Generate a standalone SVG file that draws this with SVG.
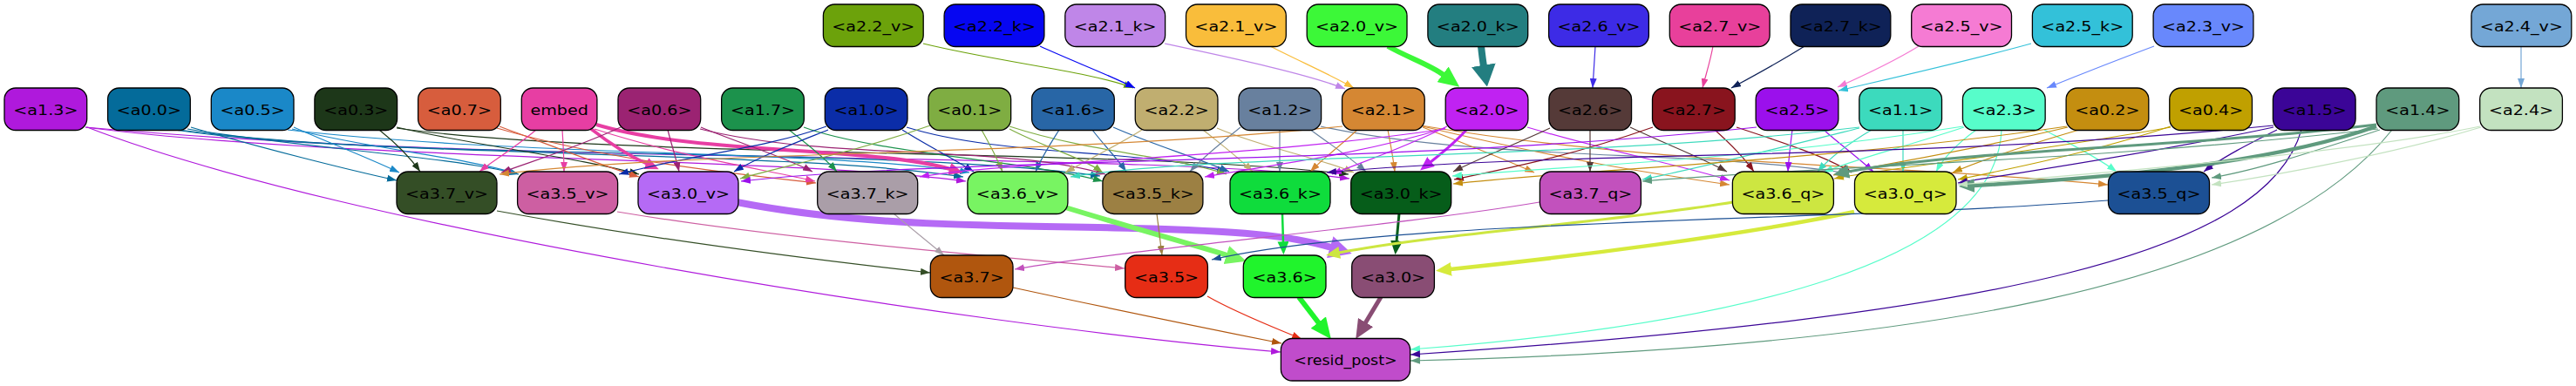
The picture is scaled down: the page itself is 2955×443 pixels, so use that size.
<svg xmlns="http://www.w3.org/2000/svg" width="2955" height="443" viewBox="0 0 2955 443">
<style>
.n rect{stroke:#000;stroke-width:1.3}
.n text{font-family:"DejaVu Sans","Liberation Sans",sans-serif;font-size:16.5px;text-anchor:middle;fill:#000}
</style>
<defs>
<marker id="m_a22v" viewBox="0 0 10 7" refX="10" refY="3.5" markerWidth="11" markerHeight="8" orient="auto" markerUnits="userSpaceOnUse" preserveAspectRatio="none"><path d="M0,0L10,3.5L0,7z" fill="#6ca20b"/></marker>
<marker id="m_a22k" viewBox="0 0 10 7" refX="10" refY="3.5" markerWidth="11" markerHeight="8" orient="auto" markerUnits="userSpaceOnUse" preserveAspectRatio="none"><path d="M0,0L10,3.5L0,7z" fill="#0606f2"/></marker>
<marker id="m_a21k" viewBox="0 0 10 7" refX="10" refY="3.5" markerWidth="11" markerHeight="8" orient="auto" markerUnits="userSpaceOnUse" preserveAspectRatio="none"><path d="M0,0L10,3.5L0,7z" fill="#bf86e8"/></marker>
<marker id="m_a21v" viewBox="0 0 10 7" refX="10" refY="3.5" markerWidth="11" markerHeight="8" orient="auto" markerUnits="userSpaceOnUse" preserveAspectRatio="none"><path d="M0,0L10,3.5L0,7z" fill="#f9bd3b"/></marker>
<marker id="M_a20v" viewBox="0 0 10 10" refX="0.5" refY="5" markerWidth="24" markerHeight="22" orient="auto" markerUnits="userSpaceOnUse" preserveAspectRatio="none"><path d="M0,0L10,5L0,10z" fill="#3cf838"/></marker>
<marker id="M_a20k" viewBox="0 0 10 10" refX="0.5" refY="5" markerWidth="25" markerHeight="28" orient="auto" markerUnits="userSpaceOnUse" preserveAspectRatio="none"><path d="M0,0L10,5L0,10z" fill="#237e80"/></marker>
<marker id="m_a26v" viewBox="0 0 10 7" refX="10" refY="3.5" markerWidth="11" markerHeight="8" orient="auto" markerUnits="userSpaceOnUse" preserveAspectRatio="none"><path d="M0,0L10,3.5L0,7z" fill="#3d2be6"/></marker>
<marker id="m_a27v" viewBox="0 0 10 7" refX="10" refY="3.5" markerWidth="11" markerHeight="8" orient="auto" markerUnits="userSpaceOnUse" preserveAspectRatio="none"><path d="M0,0L10,3.5L0,7z" fill="#e8409b"/></marker>
<marker id="m_a27k" viewBox="0 0 10 7" refX="10" refY="3.5" markerWidth="11" markerHeight="8" orient="auto" markerUnits="userSpaceOnUse" preserveAspectRatio="none"><path d="M0,0L10,3.5L0,7z" fill="#0f2257"/></marker>
<marker id="m_a25v" viewBox="0 0 10 7" refX="10" refY="3.5" markerWidth="11" markerHeight="8" orient="auto" markerUnits="userSpaceOnUse" preserveAspectRatio="none"><path d="M0,0L10,3.5L0,7z" fill="#f57bd3"/></marker>
<marker id="m_a25k" viewBox="0 0 10 7" refX="10" refY="3.5" markerWidth="11" markerHeight="8" orient="auto" markerUnits="userSpaceOnUse" preserveAspectRatio="none"><path d="M0,0L10,3.5L0,7z" fill="#33c1d9"/></marker>
<marker id="m_a23v" viewBox="0 0 10 7" refX="10" refY="3.5" markerWidth="11" markerHeight="8" orient="auto" markerUnits="userSpaceOnUse" preserveAspectRatio="none"><path d="M0,0L10,3.5L0,7z" fill="#6888fc"/></marker>
<marker id="m_a24v" viewBox="0 0 10 7" refX="10" refY="3.5" markerWidth="11" markerHeight="8" orient="auto" markerUnits="userSpaceOnUse" preserveAspectRatio="none"><path d="M0,0L10,3.5L0,7z" fill="#74a7d6"/></marker>
<marker id="m_a13" viewBox="0 0 10 7" refX="10" refY="3.5" markerWidth="11" markerHeight="8" orient="auto" markerUnits="userSpaceOnUse" preserveAspectRatio="none"><path d="M0,0L10,3.5L0,7z" fill="#af19dc"/></marker>
<marker id="m_a00" viewBox="0 0 10 7" refX="10" refY="3.5" markerWidth="11" markerHeight="8" orient="auto" markerUnits="userSpaceOnUse" preserveAspectRatio="none"><path d="M0,0L10,3.5L0,7z" fill="#046b9a"/></marker>
<marker id="m_a05" viewBox="0 0 10 7" refX="10" refY="3.5" markerWidth="11" markerHeight="8" orient="auto" markerUnits="userSpaceOnUse" preserveAspectRatio="none"><path d="M0,0L10,3.5L0,7z" fill="#1a88c8"/></marker>
<marker id="m_a03" viewBox="0 0 10 7" refX="10" refY="3.5" markerWidth="11" markerHeight="8" orient="auto" markerUnits="userSpaceOnUse" preserveAspectRatio="none"><path d="M0,0L10,3.5L0,7z" fill="#1d3719"/></marker>
<marker id="m_a07" viewBox="0 0 10 7" refX="10" refY="3.5" markerWidth="11" markerHeight="8" orient="auto" markerUnits="userSpaceOnUse" preserveAspectRatio="none"><path d="M0,0L10,3.5L0,7z" fill="#d75d3d"/></marker>
<marker id="m_emb" viewBox="0 0 10 7" refX="10" refY="3.5" markerWidth="11" markerHeight="8" orient="auto" markerUnits="userSpaceOnUse" preserveAspectRatio="none"><path d="M0,0L10,3.5L0,7z" fill="#e73ea3"/></marker>
<marker id="M_emb" viewBox="0 0 10 10" refX="0.5" refY="5" markerWidth="16" markerHeight="14" orient="auto" markerUnits="userSpaceOnUse" preserveAspectRatio="none"><path d="M0,0L10,5L0,10z" fill="#e73ea3"/></marker>
<marker id="m_a06" viewBox="0 0 10 7" refX="10" refY="3.5" markerWidth="11" markerHeight="8" orient="auto" markerUnits="userSpaceOnUse" preserveAspectRatio="none"><path d="M0,0L10,3.5L0,7z" fill="#9b2372"/></marker>
<marker id="m_a17" viewBox="0 0 10 7" refX="10" refY="3.5" markerWidth="11" markerHeight="8" orient="auto" markerUnits="userSpaceOnUse" preserveAspectRatio="none"><path d="M0,0L10,3.5L0,7z" fill="#1c924c"/></marker>
<marker id="m_a10" viewBox="0 0 10 7" refX="10" refY="3.5" markerWidth="11" markerHeight="8" orient="auto" markerUnits="userSpaceOnUse" preserveAspectRatio="none"><path d="M0,0L10,3.5L0,7z" fill="#0b2da8"/></marker>
<marker id="m_a01" viewBox="0 0 10 7" refX="10" refY="3.5" markerWidth="11" markerHeight="8" orient="auto" markerUnits="userSpaceOnUse" preserveAspectRatio="none"><path d="M0,0L10,3.5L0,7z" fill="#7fad42"/></marker>
<marker id="m_a16" viewBox="0 0 10 7" refX="10" refY="3.5" markerWidth="11" markerHeight="8" orient="auto" markerUnits="userSpaceOnUse" preserveAspectRatio="none"><path d="M0,0L10,3.5L0,7z" fill="#2866a6"/></marker>
<marker id="m_a22" viewBox="0 0 10 7" refX="10" refY="3.5" markerWidth="11" markerHeight="8" orient="auto" markerUnits="userSpaceOnUse" preserveAspectRatio="none"><path d="M0,0L10,3.5L0,7z" fill="#c0ae70"/></marker>
<marker id="m_a12" viewBox="0 0 10 7" refX="10" refY="3.5" markerWidth="11" markerHeight="8" orient="auto" markerUnits="userSpaceOnUse" preserveAspectRatio="none"><path d="M0,0L10,3.5L0,7z" fill="#68809e"/></marker>
<marker id="m_a21" viewBox="0 0 10 7" refX="10" refY="3.5" markerWidth="11" markerHeight="8" orient="auto" markerUnits="userSpaceOnUse" preserveAspectRatio="none"><path d="M0,0L10,3.5L0,7z" fill="#d58733"/></marker>
<marker id="m_a20" viewBox="0 0 10 7" refX="10" refY="3.5" markerWidth="11" markerHeight="8" orient="auto" markerUnits="userSpaceOnUse" preserveAspectRatio="none"><path d="M0,0L10,3.5L0,7z" fill="#c022f2"/></marker>
<marker id="M_a20" viewBox="0 0 10 10" refX="0.5" refY="5" markerWidth="16" markerHeight="14" orient="auto" markerUnits="userSpaceOnUse" preserveAspectRatio="none"><path d="M0,0L10,5L0,10z" fill="#c022f2"/></marker>
<marker id="m_a26" viewBox="0 0 10 7" refX="10" refY="3.5" markerWidth="11" markerHeight="8" orient="auto" markerUnits="userSpaceOnUse" preserveAspectRatio="none"><path d="M0,0L10,3.5L0,7z" fill="#553a38"/></marker>
<marker id="m_a27" viewBox="0 0 10 7" refX="10" refY="3.5" markerWidth="11" markerHeight="8" orient="auto" markerUnits="userSpaceOnUse" preserveAspectRatio="none"><path d="M0,0L10,3.5L0,7z" fill="#89141e"/></marker>
<marker id="m_a25" viewBox="0 0 10 7" refX="10" refY="3.5" markerWidth="11" markerHeight="8" orient="auto" markerUnits="userSpaceOnUse" preserveAspectRatio="none"><path d="M0,0L10,3.5L0,7z" fill="#9b10ec"/></marker>
<marker id="m_a11" viewBox="0 0 10 7" refX="10" refY="3.5" markerWidth="11" markerHeight="8" orient="auto" markerUnits="userSpaceOnUse" preserveAspectRatio="none"><path d="M0,0L10,3.5L0,7z" fill="#3cdabd"/></marker>
<marker id="m_a23" viewBox="0 0 10 7" refX="10" refY="3.5" markerWidth="11" markerHeight="8" orient="auto" markerUnits="userSpaceOnUse" preserveAspectRatio="none"><path d="M0,0L10,3.5L0,7z" fill="#57fdca"/></marker>
<marker id="m_a02" viewBox="0 0 10 7" refX="10" refY="3.5" markerWidth="11" markerHeight="8" orient="auto" markerUnits="userSpaceOnUse" preserveAspectRatio="none"><path d="M0,0L10,3.5L0,7z" fill="#c48e10"/></marker>
<marker id="m_a04" viewBox="0 0 10 7" refX="10" refY="3.5" markerWidth="11" markerHeight="8" orient="auto" markerUnits="userSpaceOnUse" preserveAspectRatio="none"><path d="M0,0L10,3.5L0,7z" fill="#c0a000"/></marker>
<marker id="m_a15" viewBox="0 0 10 7" refX="10" refY="3.5" markerWidth="11" markerHeight="8" orient="auto" markerUnits="userSpaceOnUse" preserveAspectRatio="none"><path d="M0,0L10,3.5L0,7z" fill="#3b0597"/></marker>
<marker id="m_a14" viewBox="0 0 10 7" refX="10" refY="3.5" markerWidth="11" markerHeight="8" orient="auto" markerUnits="userSpaceOnUse" preserveAspectRatio="none"><path d="M0,0L10,3.5L0,7z" fill="#5f9a7e"/></marker>
<marker id="M_a14" viewBox="0 0 10 10" refX="0.5" refY="5" markerWidth="18" markerHeight="16" orient="auto" markerUnits="userSpaceOnUse" preserveAspectRatio="none"><path d="M0,0L10,5L0,10z" fill="#5f9a7e"/></marker>
<marker id="m_a24" viewBox="0 0 10 7" refX="10" refY="3.5" markerWidth="11" markerHeight="8" orient="auto" markerUnits="userSpaceOnUse" preserveAspectRatio="none"><path d="M0,0L10,3.5L0,7z" fill="#c3e2c0"/></marker>
<marker id="m_a37v" viewBox="0 0 10 7" refX="10" refY="3.5" markerWidth="11" markerHeight="8" orient="auto" markerUnits="userSpaceOnUse" preserveAspectRatio="none"><path d="M0,0L10,3.5L0,7z" fill="#344e26"/></marker>
<marker id="m_a35v" viewBox="0 0 10 7" refX="10" refY="3.5" markerWidth="11" markerHeight="8" orient="auto" markerUnits="userSpaceOnUse" preserveAspectRatio="none"><path d="M0,0L10,3.5L0,7z" fill="#cd5fa2"/></marker>
<marker id="M_a30v" viewBox="0 0 10 10" refX="0.5" refY="5" markerWidth="26" markerHeight="26" orient="auto" markerUnits="userSpaceOnUse" preserveAspectRatio="none"><path d="M0,0L10,5L0,10z" fill="#b56af5"/></marker>
<marker id="m_a37k" viewBox="0 0 10 7" refX="10" refY="3.5" markerWidth="11" markerHeight="8" orient="auto" markerUnits="userSpaceOnUse" preserveAspectRatio="none"><path d="M0,0L10,3.5L0,7z" fill="#aa9ea8"/></marker>
<marker id="M_a36v" viewBox="0 0 10 10" refX="0.5" refY="5" markerWidth="24" markerHeight="22" orient="auto" markerUnits="userSpaceOnUse" preserveAspectRatio="none"><path d="M0,0L10,5L0,10z" fill="#78f462"/></marker>
<marker id="m_a35k" viewBox="0 0 10 7" refX="10" refY="3.5" markerWidth="11" markerHeight="8" orient="auto" markerUnits="userSpaceOnUse" preserveAspectRatio="none"><path d="M0,0L10,3.5L0,7z" fill="#9c8043"/></marker>
<marker id="M_a36k" viewBox="0 0 10 10" refX="0.5" refY="5" markerWidth="15" markerHeight="13" orient="auto" markerUnits="userSpaceOnUse" preserveAspectRatio="none"><path d="M0,0L10,5L0,10z" fill="#0fdc3c"/></marker>
<marker id="M_a30k" viewBox="0 0 10 10" refX="0.5" refY="5" markerWidth="16" markerHeight="14" orient="auto" markerUnits="userSpaceOnUse" preserveAspectRatio="none"><path d="M0,0L10,5L0,10z" fill="#065d1a"/></marker>
<marker id="m_a37q" viewBox="0 0 10 7" refX="10" refY="3.5" markerWidth="11" markerHeight="8" orient="auto" markerUnits="userSpaceOnUse" preserveAspectRatio="none"><path d="M0,0L10,3.5L0,7z" fill="#c251bd"/></marker>
<marker id="M_a36q" viewBox="0 0 10 10" refX="0.5" refY="5" markerWidth="16" markerHeight="14" orient="auto" markerUnits="userSpaceOnUse" preserveAspectRatio="none"><path d="M0,0L10,5L0,10z" fill="#cde641"/></marker>
<marker id="M_a30q" viewBox="0 0 10 10" refX="0.5" refY="5" markerWidth="18" markerHeight="16" orient="auto" markerUnits="userSpaceOnUse" preserveAspectRatio="none"><path d="M0,0L10,5L0,10z" fill="#d6ea3c"/></marker>
<marker id="m_a35q" viewBox="0 0 10 7" refX="10" refY="3.5" markerWidth="11" markerHeight="8" orient="auto" markerUnits="userSpaceOnUse" preserveAspectRatio="none"><path d="M0,0L10,3.5L0,7z" fill="#1c5094"/></marker>
<marker id="m_a37" viewBox="0 0 10 7" refX="10" refY="3.5" markerWidth="11" markerHeight="8" orient="auto" markerUnits="userSpaceOnUse" preserveAspectRatio="none"><path d="M0,0L10,3.5L0,7z" fill="#b0560e"/></marker>
<marker id="m_a35" viewBox="0 0 10 7" refX="10" refY="3.5" markerWidth="11" markerHeight="8" orient="auto" markerUnits="userSpaceOnUse" preserveAspectRatio="none"><path d="M0,0L10,3.5L0,7z" fill="#e62d15"/></marker>
<marker id="M_a36" viewBox="0 0 10 10" refX="0.5" refY="5" markerWidth="24" markerHeight="22" orient="auto" markerUnits="userSpaceOnUse" preserveAspectRatio="none"><path d="M0,0L10,5L0,10z" fill="#20f42c"/></marker>
<marker id="M_a30" viewBox="0 0 10 10" refX="0.5" refY="5" markerWidth="22" markerHeight="20" orient="auto" markerUnits="userSpaceOnUse" preserveAspectRatio="none"><path d="M0,0L10,5L0,10z" fill="#894d74"/></marker>
</defs>
<rect width="2955" height="443" fill="#fff"/>
<g id="edges" fill="none" stroke-width="1.2">
<path d="M1059,50 C1150,72 1250,82 1300,101" stroke="#6ca20b" marker-end="url(#m_a22v)"/>
<path d="M1193,53 C1230,70 1270,85 1302,101" stroke="#0606f2" marker-end="url(#m_a22k)"/>
<path d="M1336,50 C1420,68 1500,85 1543,102" stroke="#bf86e8" marker-end="url(#m_a21k)"/>
<path d="M1457,53 C1490,70 1525,85 1553,101" stroke="#f9bd3b" marker-end="url(#m_a21v)"/>
<path d="M1592,53 C1615,66 1640,74 1656,86" stroke="#3cf838" stroke-width="6" marker-end="url(#M_a20v)"/>
<path d="M1699,53 C1700,62 1701,70 1702,76" stroke="#237e80" stroke-width="8" marker-end="url(#M_a20k)"/>
<path d="M1830,53 C1829,70 1828,85 1827,101" stroke="#3d2be6" marker-end="url(#m_a26v)"/>
<path d="M1965,53 C1962,70 1957,85 1953,101" stroke="#e8409b" marker-end="url(#m_a27v)"/>
<path d="M2070,53 C2040,72 2010,88 1986,101" stroke="#0f2257" marker-end="url(#m_a27k)"/>
<path d="M2201,53 C2170,72 2135,88 2108,100" stroke="#f57bd3" marker-end="url(#m_a25v)"/>
<path d="M2330,50 C2250,72 2160,92 2109,104" stroke="#33c1d9" marker-end="url(#m_a25k)"/>
<path d="M2471,53 C2420,72 2380,88 2348,101" stroke="#6888fc" marker-end="url(#m_a23v)"/>
<path d="M2892,53 L2892,101" stroke="#74a7d6" marker-end="url(#m_a24v)"/>
<path d="M98,146 C400,185 900,180 1108,208" stroke="#af19dc" marker-end="url(#m_a13)"/>
<path d="M98,146 C600,192 1300,172 1548,205" stroke="#af19dc" marker-end="url(#m_a13)"/>
<path d="M219,146 C300,170 400,195 455,207" stroke="#046b9a" marker-end="url(#m_a00)"/>
<path d="M215,148 C350,170 520,180 595,200" stroke="#046b9a" marker-end="url(#m_a00)"/>
<path d="M205,149 C450,182 900,172 1105,203" stroke="#046b9a" marker-end="url(#m_a00)"/>
<path d="M200,149 C450,186 1000,166 1262,202" stroke="#046b9a" marker-end="url(#m_a00)"/>
<path d="M337,146 C380,165 420,180 458,198" stroke="#1a88c8" marker-end="url(#m_a05)"/>
<path d="M335,148 C420,170 530,180 592,199" stroke="#1a88c8" marker-end="url(#m_a05)"/>
<path d="M330,149 C600,180 950,172 1112,198" stroke="#1a88c8" marker-end="url(#m_a05)"/>
<path d="M435,149 C455,165 470,180 482,197" stroke="#1d3719" marker-end="url(#m_a03)"/>
<path d="M455,146 C560,170 660,180 733,200" stroke="#1d3719" marker-end="url(#m_a03)"/>
<path d="M455,147 C700,182 1300,170 1547,200" stroke="#1d3719" marker-end="url(#m_a03)"/>
<path d="M573,145 C640,170 690,190 733,203" stroke="#d75d3d" marker-end="url(#m_a07)"/>
<path d="M570,147 C700,185 850,200 936,210" stroke="#d75d3d" marker-end="url(#m_a07)"/>
<path d="M615,149 C590,170 565,185 550,197" stroke="#e73ea3" marker-end="url(#m_emb)"/>
<path d="M645,149 C646,165 647,180 647,197" stroke="#e73ea3" marker-end="url(#m_emb)"/>
<path d="M678,148 C700,165 720,178 742,188" stroke="#e73ea3" stroke-width="3.5" marker-end="url(#M_emb)"/>
<path d="M684,143 C800,178 1000,168 1090,194" stroke="#e73ea3" stroke-width="4" marker-end="url(#M_emb)"/>
<path d="M682,148 C780,180 880,195 935,208" stroke="#e73ea3" marker-end="url(#m_emb)"/>
<path d="M712,146 C660,170 610,185 575,198" stroke="#9b2372" marker-end="url(#m_a06)"/>
<path d="M766,149 C770,165 775,180 779,197" stroke="#9b2372" marker-end="url(#m_a06)"/>
<path d="M804,146 C850,165 900,180 932,197" stroke="#9b2372" marker-end="url(#m_a06)"/>
<path d="M803,148 C950,185 1150,165 1268,200" stroke="#9b2372" marker-end="url(#m_a06)"/>
<path d="M905,149 C925,165 945,180 960,197" stroke="#1c924c" marker-end="url(#m_a17)"/>
<path d="M922,146 C1000,175 1180,185 1265,208" stroke="#1c924c" marker-end="url(#m_a17)"/>
<path d="M948,145 C880,170 780,180 710,200" stroke="#0b2da8" marker-end="url(#m_a10)"/>
<path d="M950,149 C910,165 870,180 842,197" stroke="#0b2da8" marker-end="url(#m_a10)"/>
<path d="M1035,149 C1060,165 1090,180 1117,197" stroke="#0b2da8" marker-end="url(#m_a10)"/>
<path d="M1040,146 C1150,180 1300,170 1407,197" stroke="#0b2da8" marker-end="url(#m_a10)"/>
<path d="M1067,144 C980,175 900,190 849,205" stroke="#7fad42" marker-end="url(#m_a01)"/>
<path d="M1126,149 C1135,165 1143,180 1150,197" stroke="#7fad42" marker-end="url(#m_a01)"/>
<path d="M1158,148 C1200,170 1240,180 1265,198" stroke="#7fad42" marker-end="url(#m_a01)"/>
<path d="M1158,145 C1250,175 1350,180 1407,200" stroke="#7fad42" marker-end="url(#m_a01)"/>
<path d="M1215,149 C1205,165 1195,180 1188,197" stroke="#2866a6" marker-end="url(#m_a16)"/>
<path d="M1253,149 C1265,165 1280,180 1292,197" stroke="#2866a6" marker-end="url(#m_a16)"/>
<path d="M1277,146 C1320,165 1370,180 1410,197" stroke="#2866a6" marker-end="url(#m_a16)"/>
<path d="M1310,149 C1280,168 1250,182 1222,198" stroke="#c0ae70" marker-end="url(#m_a22)"/>
<path d="M1380,149 C1400,165 1420,180 1437,197" stroke="#c0ae70" marker-end="url(#m_a22)"/>
<path d="M1396,147 C1450,170 1510,180 1553,198" stroke="#c0ae70" marker-end="url(#m_a22)"/>
<path d="M1423,146 C1400,165 1380,180 1365,197" stroke="#68809e" marker-end="url(#m_a12)"/>
<path d="M1468,149 L1468,197" stroke="#68809e" marker-end="url(#m_a12)"/>
<path d="M1502,148 C1525,165 1548,180 1567,197" stroke="#68809e" marker-end="url(#m_a12)"/>
<path d="M1515,145 C1700,185 1950,172 2120,199" stroke="#68809e" marker-end="url(#m_a12)"/>
<path d="M1540,145 C1200,180 800,172 573,200" stroke="#d58733" marker-end="url(#m_a21)"/>
<path d="M1557,149 C1540,165 1520,180 1503,197" stroke="#d58733" marker-end="url(#m_a21)"/>
<path d="M1592,149 C1595,165 1598,180 1600,197" stroke="#d58733" marker-end="url(#m_a21)"/>
<path d="M1632,146 C1680,165 1720,180 1760,198" stroke="#d58733" marker-end="url(#m_a21)"/>
<path d="M1632,145 C1800,185 1900,200 1984,212" stroke="#d58733" marker-end="url(#m_a21)"/>
<path d="M1630,144 C1900,190 2200,190 2418,212" stroke="#d58733" marker-end="url(#m_a21)"/>
<path d="M1682,149 C1670,163 1655,175 1641,186" stroke="#c022f2" stroke-width="3" marker-end="url(#M_a20)"/>
<path d="M1660,145 C1610,170 1565,185 1528,200" stroke="#c022f2" marker-end="url(#m_a20)"/>
<path d="M1658,147 C1550,180 1450,190 1382,203" stroke="#c022f2" marker-end="url(#m_a20)"/>
<path d="M1658,148 C1400,185 1150,185 1055,203" stroke="#c022f2" marker-end="url(#m_a20)"/>
<path d="M1752,146 C1850,175 1930,190 1984,207" stroke="#c022f2" marker-end="url(#m_a20)"/>
<path d="M1824,149 L1824,197" stroke="#553a38" marker-end="url(#m_a26)"/>
<path d="M1778,147 C1740,165 1700,180 1667,197" stroke="#553a38" marker-end="url(#m_a26)"/>
<path d="M1870,146 C1910,165 1950,180 1981,197" stroke="#553a38" marker-end="url(#m_a26)"/>
<path d="M1896,146 C1800,180 1720,195 1668,206" stroke="#89141e" marker-end="url(#m_a27)"/>
<path d="M1967,149 C1985,165 2000,180 2012,197" stroke="#89141e" marker-end="url(#m_a27)"/>
<path d="M1992,146 C2050,165 2095,180 2124,198" stroke="#89141e" marker-end="url(#m_a27)"/>
<path d="M2056,149 C2054,165 2052,180 2051,197" stroke="#9b10ec" marker-end="url(#m_a25)"/>
<path d="M2092,149 C2110,165 2130,180 2149,197" stroke="#9b10ec" marker-end="url(#m_a25)"/>
<path d="M2015,146 C1600,190 1100,180 850,208" stroke="#9b10ec" marker-end="url(#m_a25)"/>
<path d="M2183,149 L2183,197" stroke="#3cdabd" marker-end="url(#m_a11)"/>
<path d="M2147,149 C2120,165 2100,180 2085,197" stroke="#3cdabd" marker-end="url(#m_a11)"/>
<path d="M2133,146 C1800,185 1400,175 1228,203" stroke="#3cdabd" marker-end="url(#m_a11)"/>
<path d="M2133,147 C2020,175 1940,195 1884,206" stroke="#3cdabd" marker-end="url(#m_a11)"/>
<path d="M2267,149 C2245,165 2230,180 2221,197" stroke="#57fdca" marker-end="url(#m_a23)"/>
<path d="M2253,146 C2180,170 2120,185 2092,198" stroke="#57fdca" marker-end="url(#m_a23)"/>
<path d="M2345,149 C2375,165 2405,180 2428,197" stroke="#57fdca" marker-end="url(#m_a23)"/>
<path d="M2252,145 C2000,185 1800,190 1666,202" stroke="#57fdca" marker-end="url(#m_a23)"/>
<path d="M2296,149 C2290,300 2000,372 1618,401" stroke="#57fdca" marker-end="url(#m_a23)"/>
<path d="M2385,149 C2320,168 2270,185 2240,198" stroke="#c48e10" marker-end="url(#m_a02)"/>
<path d="M2372,146 C2250,175 2150,190 2103,201" stroke="#c48e10" marker-end="url(#m_a02)"/>
<path d="M2371,145 C2100,185 1800,195 1667,211" stroke="#c48e10" marker-end="url(#m_a02)"/>
<path d="M2490,145 C2400,175 2300,195 2246,206" stroke="#c0a000" marker-end="url(#m_a04)"/>
<path d="M2490,146 C2300,180 2150,195 2104,205" stroke="#c0a000" marker-end="url(#m_a04)"/>
<path d="M2612,149 C2580,165 2550,180 2528,197" stroke="#3b0597" marker-end="url(#m_a15)"/>
<path d="M2608,144 C2200,185 1800,172 1522,198" stroke="#3b0597" marker-end="url(#m_a15)"/>
<path d="M2608,146 C2450,180 2300,200 2246,210" stroke="#3b0597" marker-end="url(#m_a15)"/>
<path d="M2640,149 C2600,290 2300,362 1618,407" stroke="#3b0597" marker-end="url(#m_a15)"/>
<path d="M2726,145 C2600,190 2400,205 2264,213" stroke="#5f9a7e" stroke-width="4.5" marker-end="url(#M_a14)"/>
<path d="M2726,143 C2500,170 2250,172 2120,197" stroke="#5f9a7e" stroke-width="3" marker-end="url(#M_a14)"/>
<path d="M2728,148 C2400,185 2100,190 1884,208" stroke="#5f9a7e" marker-end="url(#m_a14)"/>
<path d="M2730,149 C2650,175 2590,195 2537,204" stroke="#5f9a7e" marker-end="url(#m_a14)"/>
<path d="M2744,149 C2600,330 2200,400 1618,414" stroke="#5f9a7e" marker-end="url(#m_a14)"/>
<path d="M2846,146 C2750,175 2620,200 2537,212" stroke="#c3e2c0" marker-end="url(#m_a24)"/>
<path d="M2845,145 C2700,175 2400,200 2246,212" stroke="#c3e2c0" marker-end="url(#m_a24)"/>
<path d="M100,146 C400,262 1100,372 1469,404" stroke="#af19dc" marker-end="url(#m_a13)"/>
<path d="M570,242 C750,275 950,300 1067,313" stroke="#344e26" marker-end="url(#m_a37v)"/>
<path d="M708,243 C900,275 1150,295 1290,308" stroke="#cd5fa2" marker-end="url(#m_a35v)"/>
<path d="M845,232 C1000,262 1150,258 1300,262 C1420,265 1480,270 1527,284" stroke="#b56af5" stroke-width="8" marker-end="url(#M_a30v)"/>
<path d="M1025,245 C1045,262 1065,278 1083,293" stroke="#aa9ea8" marker-end="url(#m_a37k)"/>
<path d="M1222,238 C1300,262 1360,278 1408,293" stroke="#78f462" stroke-width="6" marker-end="url(#M_a36v)"/>
<path d="M1327,245 C1329,262 1331,278 1333,293" stroke="#9c8043" marker-end="url(#m_a35k)"/>
<path d="M1471,245 L1472,278" stroke="#0fdc3c" stroke-width="2.5" marker-end="url(#M_a36k)"/>
<path d="M1605,245 L1602,277" stroke="#065d1a" stroke-width="3" marker-end="url(#M_a30k)"/>
<path d="M1766,232 C1600,260 1300,285 1164,309" stroke="#c251bd" marker-end="url(#m_a37q)"/>
<path d="M1988,232 C1850,255 1650,268 1536,290" stroke="#cde641" stroke-width="3" marker-end="url(#M_a36q)"/>
<path d="M2127,243 C2000,270 1800,295 1664,309" stroke="#d6ea3c" stroke-width="4.5" marker-end="url(#M_a30q)"/>
<path d="M2418,230 C2100,255 1600,250 1390,298" stroke="#1c5094" marker-end="url(#m_a35q)"/>
<path d="M1162,330 C1300,360 1400,380 1470,394" stroke="#b0560e" marker-end="url(#m_a37)"/>
<path d="M1385,340 C1420,360 1460,375 1493,389" stroke="#e62d15" marker-end="url(#m_a35)"/>
<path d="M1490,341 L1513,371" stroke="#20f42c" stroke-width="6" marker-end="url(#M_a36)"/>
<path d="M1584,341 L1566,371" stroke="#894d74" stroke-width="5" marker-end="url(#M_a30)"/>
</g>
<g id="n_a22v" class="n"><rect x="944.4" y="5" width="114.8" height="48.5" rx="13" fill="#6ca20b"/><text transform="translate(1001.8 35.5) scale(1.16 1)">&lt;a2.2_v&gt;</text></g>
<g id="n_a22k" class="n"><rect x="1083.1" y="5" width="114.8" height="48.5" rx="13" fill="#0606f2"/><text transform="translate(1140.5 35.5) scale(1.16 1)">&lt;a2.2_k&gt;</text></g>
<g id="n_a21k" class="n"><rect x="1221.8" y="5" width="114.8" height="48.5" rx="13" fill="#bf86e8"/><text transform="translate(1279.2 35.5) scale(1.16 1)">&lt;a2.1_k&gt;</text></g>
<g id="n_a21v" class="n"><rect x="1360.5" y="5" width="114.8" height="48.5" rx="13" fill="#f9bd3b"/><text transform="translate(1417.9 35.5) scale(1.16 1)">&lt;a2.1_v&gt;</text></g>
<g id="n_a20v" class="n"><rect x="1499.2" y="5" width="114.8" height="48.5" rx="13" fill="#3cf838"/><text transform="translate(1556.6 35.5) scale(1.16 1)">&lt;a2.0_v&gt;</text></g>
<g id="n_a20k" class="n"><rect x="1637.9" y="5" width="114.8" height="48.5" rx="13" fill="#237e80"/><text transform="translate(1695.3 35.5) scale(1.16 1)">&lt;a2.0_k&gt;</text></g>
<g id="n_a26v" class="n"><rect x="1776.6" y="5" width="114.8" height="48.5" rx="13" fill="#3d2be6"/><text transform="translate(1834 35.5) scale(1.16 1)">&lt;a2.6_v&gt;</text></g>
<g id="n_a27v" class="n"><rect x="1915.3" y="5" width="114.8" height="48.5" rx="13" fill="#e8409b"/><text transform="translate(1972.7 35.5) scale(1.16 1)">&lt;a2.7_v&gt;</text></g>
<g id="n_a27k" class="n"><rect x="2054" y="5" width="114.8" height="48.5" rx="13" fill="#0f2257"/><text transform="translate(2111.4 35.5) scale(1.16 1)">&lt;a2.7_k&gt;</text></g>
<g id="n_a25v" class="n"><rect x="2192.7" y="5" width="114.8" height="48.5" rx="13" fill="#f57bd3"/><text transform="translate(2250.1 35.5) scale(1.16 1)">&lt;a2.5_v&gt;</text></g>
<g id="n_a25k" class="n"><rect x="2331.4" y="5" width="114.8" height="48.5" rx="13" fill="#33c1d9"/><text transform="translate(2388.8 35.5) scale(1.16 1)">&lt;a2.5_k&gt;</text></g>
<g id="n_a23v" class="n"><rect x="2470.1" y="5" width="114.8" height="48.5" rx="13" fill="#6888fc"/><text transform="translate(2527.5 35.5) scale(1.16 1)">&lt;a2.3_v&gt;</text></g>
<g id="n_a24v" class="n"><rect x="2835" y="5" width="114.8" height="48.5" rx="13" fill="#74a7d6"/><text transform="translate(2892.4 35.5) scale(1.16 1)">&lt;a2.4_v&gt;</text></g>
<g id="n_a13" class="n"><rect x="5" y="101" width="94.7" height="48.5" rx="13" fill="#af19dc"/><text transform="translate(52.35 131.5) scale(1.16 1)">&lt;a1.3&gt;</text></g>
<g id="n_a00" class="n"><rect x="123.6" y="101" width="94.7" height="48.5" rx="13" fill="#046b9a"/><text transform="translate(170.95 131.5) scale(1.16 1)">&lt;a0.0&gt;</text></g>
<g id="n_a05" class="n"><rect x="242.3" y="101" width="94.7" height="48.5" rx="13" fill="#1a88c8"/><text transform="translate(289.65 131.5) scale(1.16 1)">&lt;a0.5&gt;</text></g>
<g id="n_a03" class="n"><rect x="360.9" y="101" width="94.7" height="48.5" rx="13" fill="#1d3719"/><text transform="translate(408.25 131.5) scale(1.16 1)">&lt;a0.3&gt;</text></g>
<g id="n_a07" class="n"><rect x="479.6" y="101" width="94.7" height="48.5" rx="13" fill="#d75d3d"/><text transform="translate(526.95 131.5) scale(1.16 1)">&lt;a0.7&gt;</text></g>
<g id="n_embed" class="n"><rect x="598.3" y="101" width="86.6" height="48.5" rx="13" fill="#e73ea3"/><text transform="translate(641.6 131.5) scale(1.16 1)">embed</text></g>
<g id="n_a06" class="n"><rect x="709" y="101" width="94.7" height="48.5" rx="13" fill="#9b2372"/><text transform="translate(756.35 131.5) scale(1.16 1)">&lt;a0.6&gt;</text></g>
<g id="n_a17" class="n"><rect x="827.65" y="101" width="94.7" height="48.5" rx="13" fill="#1c924c"/><text transform="translate(875 131.5) scale(1.16 1)">&lt;a1.7&gt;</text></g>
<g id="n_a10" class="n"><rect x="946.3" y="101" width="94.7" height="48.5" rx="13" fill="#0b2da8"/><text transform="translate(993.65 131.5) scale(1.16 1)">&lt;a1.0&gt;</text></g>
<g id="n_a01" class="n"><rect x="1064.95" y="101" width="94.7" height="48.5" rx="13" fill="#7fad42"/><text transform="translate(1112.3 131.5) scale(1.16 1)">&lt;a0.1&gt;</text></g>
<g id="n_a16" class="n"><rect x="1183.6" y="101" width="94.7" height="48.5" rx="13" fill="#2866a6"/><text transform="translate(1230.95 131.5) scale(1.16 1)">&lt;a1.6&gt;</text></g>
<g id="n_a22" class="n"><rect x="1302.25" y="101" width="94.7" height="48.5" rx="13" fill="#c0ae70"/><text transform="translate(1349.6 131.5) scale(1.16 1)">&lt;a2.2&gt;</text></g>
<g id="n_a12" class="n"><rect x="1420.9" y="101" width="94.7" height="48.5" rx="13" fill="#68809e"/><text transform="translate(1468.25 131.5) scale(1.16 1)">&lt;a1.2&gt;</text></g>
<g id="n_a21" class="n"><rect x="1539.55" y="101" width="94.7" height="48.5" rx="13" fill="#d58733"/><text transform="translate(1586.9 131.5) scale(1.16 1)">&lt;a2.1&gt;</text></g>
<g id="n_a20" class="n"><rect x="1658.2" y="101" width="94.7" height="48.5" rx="13" fill="#c022f2"/><text transform="translate(1705.55 131.5) scale(1.16 1)">&lt;a2.0&gt;</text></g>
<g id="n_a26" class="n"><rect x="1776.85" y="101" width="94.7" height="48.5" rx="13" fill="#553a38"/><text transform="translate(1824.2 131.5) scale(1.16 1)">&lt;a2.6&gt;</text></g>
<g id="n_a27" class="n"><rect x="1895.5" y="101" width="94.7" height="48.5" rx="13" fill="#89141e"/><text transform="translate(1942.85 131.5) scale(1.16 1)">&lt;a2.7&gt;</text></g>
<g id="n_a25" class="n"><rect x="2014.15" y="101" width="94.7" height="48.5" rx="13" fill="#9b10ec"/><text transform="translate(2061.5 131.5) scale(1.16 1)">&lt;a2.5&gt;</text></g>
<g id="n_a11" class="n"><rect x="2132.8" y="101" width="94.7" height="48.5" rx="13" fill="#3cdabd"/><text transform="translate(2180.15 131.5) scale(1.16 1)">&lt;a1.1&gt;</text></g>
<g id="n_a23" class="n"><rect x="2251.45" y="101" width="94.7" height="48.5" rx="13" fill="#57fdca"/><text transform="translate(2298.8 131.5) scale(1.16 1)">&lt;a2.3&gt;</text></g>
<g id="n_a02" class="n"><rect x="2370.1" y="101" width="94.7" height="48.5" rx="13" fill="#c48e10"/><text transform="translate(2417.45 131.5) scale(1.16 1)">&lt;a0.2&gt;</text></g>
<g id="n_a04" class="n"><rect x="2488.75" y="101" width="94.7" height="48.5" rx="13" fill="#c0a000"/><text transform="translate(2536.1 131.5) scale(1.16 1)">&lt;a0.4&gt;</text></g>
<g id="n_a15" class="n"><rect x="2607.4" y="101" width="94.7" height="48.5" rx="13" fill="#3b0597"/><text transform="translate(2654.75 131.5) scale(1.16 1)">&lt;a1.5&gt;</text></g>
<g id="n_a14" class="n"><rect x="2726.05" y="101" width="94.7" height="48.5" rx="13" fill="#5f9a7e"/><text transform="translate(2773.4 131.5) scale(1.16 1)">&lt;a1.4&gt;</text></g>
<g id="n_a24" class="n"><rect x="2844.7" y="101" width="94.7" height="48.5" rx="13" fill="#c3e2c0"/><text transform="translate(2892.05 131.5) scale(1.16 1)">&lt;a2.4&gt;</text></g>
<g id="n_a37v" class="n"><rect x="455" y="197" width="115" height="48.5" rx="13" fill="#344e26"/><text transform="translate(512.5 227.5) scale(1.16 1)">&lt;a3.7_v&gt;</text></g>
<g id="n_a35v" class="n"><rect x="593.6" y="197" width="115" height="48.5" rx="13" fill="#cd5fa2"/><text transform="translate(651.1 227.5) scale(1.16 1)">&lt;a3.5_v&gt;</text></g>
<g id="n_a30v" class="n"><rect x="732" y="197" width="115" height="48.5" rx="13" fill="#b56af5"/><text transform="translate(789.5 227.5) scale(1.16 1)">&lt;a3.0_v&gt;</text></g>
<g id="n_a37k" class="n"><rect x="937.7" y="197" width="115" height="48.5" rx="13" fill="#aa9ea8"/><text transform="translate(995.2 227.5) scale(1.16 1)">&lt;a3.7_k&gt;</text></g>
<g id="n_a36v" class="n"><rect x="1109.9" y="197" width="115" height="48.5" rx="13" fill="#78f462"/><text transform="translate(1167.4 227.5) scale(1.16 1)">&lt;a3.6_v&gt;</text></g>
<g id="n_a35k" class="n"><rect x="1264.9" y="197" width="115" height="48.5" rx="13" fill="#9c8043"/><text transform="translate(1322.4 227.5) scale(1.16 1)">&lt;a3.5_k&gt;</text></g>
<g id="n_a36k" class="n"><rect x="1411" y="197" width="115" height="48.5" rx="13" fill="#0fdc3c"/><text transform="translate(1468.5 227.5) scale(1.16 1)">&lt;a3.6_k&gt;</text></g>
<g id="n_a30k" class="n"><rect x="1549.7" y="197" width="115" height="48.5" rx="13" fill="#065d1a"/><text transform="translate(1607.2 227.5) scale(1.16 1)">&lt;a3.0_k&gt;</text></g>
<g id="n_a37q" class="n"><rect x="1766.4" y="197" width="116" height="48.5" rx="13" fill="#c251bd"/><text transform="translate(1824.4 227.5) scale(1.16 1)">&lt;a3.7_q&gt;</text></g>
<g id="n_a36q" class="n"><rect x="1987.4" y="197" width="116" height="48.5" rx="13" fill="#cde641"/><text transform="translate(2045.4 227.5) scale(1.16 1)">&lt;a3.6_q&gt;</text></g>
<g id="n_a30q" class="n"><rect x="2127.5" y="197" width="116.5" height="48.5" rx="13" fill="#d6ea3c"/><text transform="translate(2185.75 227.5) scale(1.16 1)">&lt;a3.0_q&gt;</text></g>
<g id="n_a35q" class="n"><rect x="2418.5" y="197" width="116" height="48.5" rx="13" fill="#1c5094"/><text transform="translate(2476.5 227.5) scale(1.16 1)">&lt;a3.5_q&gt;</text></g>
<g id="n_a37" class="n"><rect x="1067.3" y="293" width="94.7" height="48.5" rx="13" fill="#b0560e"/><text transform="translate(1114.65 323.5) scale(1.16 1)">&lt;a3.7&gt;</text></g>
<g id="n_a35" class="n"><rect x="1290.7" y="293" width="94.7" height="48.5" rx="13" fill="#e62d15"/><text transform="translate(1338.05 323.5) scale(1.16 1)">&lt;a3.5&gt;</text></g>
<g id="n_a36" class="n"><rect x="1426.3" y="293" width="94.7" height="48.5" rx="13" fill="#20f42c"/><text transform="translate(1473.65 323.5) scale(1.16 1)">&lt;a3.6&gt;</text></g>
<g id="n_a30" class="n"><rect x="1550.7" y="293" width="94.7" height="48.5" rx="13" fill="#894d74"/><text transform="translate(1598.05 323.5) scale(1.16 1)">&lt;a3.0&gt;</text></g>
<g id="n_resid" class="n"><rect x="1469.4" y="388.5" width="148.2" height="48.5" rx="13" fill="#c04ccb"/><text transform="translate(1543.5 419) scale(1.06 1)">&lt;resid_post&gt;</text></g>
</svg>
